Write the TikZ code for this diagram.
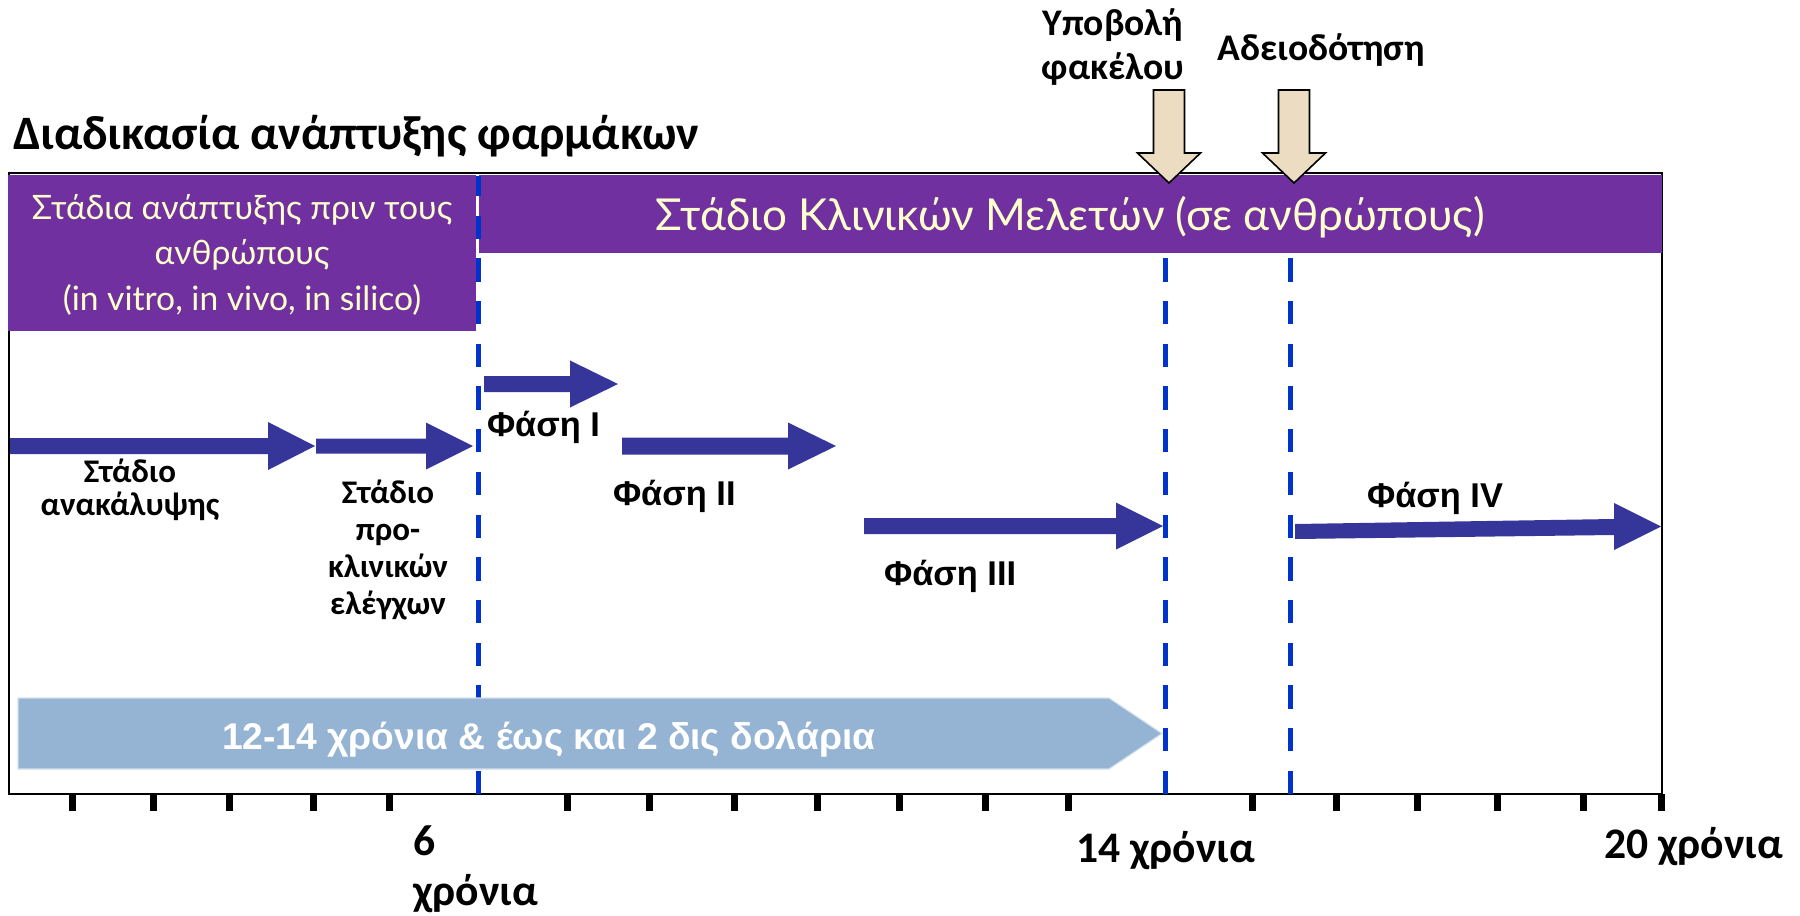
\documentclass[tikz,border=0pt]{standalone}
\usepackage{fontspec}
\setmainfont{Carlito}
\newfontfamily\arialfont{Liberation Sans}
\newfontfamily\roundfont{Lato}

\definecolor{purp}{HTML}{7030A0}
\definecolor{cream}{HTML}{FFFFCC}
\definecolor{navy}{HTML}{35359A}
\definecolor{dashblue}{HTML}{0033CC}
\definecolor{skyb}{HTML}{95B3D3}
\definecolor{tanfill}{HTML}{EBDCC2}

% horizontal block arrow: start x, tip x, centre y, half shaft, half head, head length
\newcommand\hblockarrow[6]{%
  ({#1},{#3-#4}) -- ({#2-#6},{#3-#4}) -- ({#2-#6},{#3-#5}) -- ({#2},{#3})
  -- ({#2-#6},{#3+#5}) -- ({#2-#6},{#3+#4}) -- ({#1},{#3+#4}) -- cycle}
% downward block arrow: centre x, top y, tip y, half shaft, half head, head length
\newcommand\vblockarrow[6]{%
  ({#1-#4},{#2}) -- ({#1+#4},{#2}) -- ({#1+#4},{#3-#6}) -- ({#1+#5},{#3-#6})
  -- ({#1},{#3}) -- ({#1-#5},{#3-#6}) -- ({#1-#4},{#3-#6}) -- cycle}

\tikzset{
  frameline/.style={line width=1pt, draw=black},
  purplebox/.style={fill=purp, draw=none},
  milestone/.style={draw=dashblue, line width=2.5pt, dash pattern=on 11.65pt off 9.7pt},
  navyarrow/.style={fill=navy, draw=none},
  spanarrow/.style={fill=skyb, draw=white!60!skyb, line width=0.6pt},
  eventarrow/.style={fill=tanfill, draw=black, line width=0.8pt, line join=miter},
  axistick/.style={line width=3.5pt, draw=black},
  txt/.style={inner sep=0pt, outer sep=0pt},
  titletext/.style={txt, anchor=base west, font=\bfseries\fontsize{24}{28}\selectfont},
  stagetext/.style={txt, anchor=base, align=center, text=cream, font=\roundfont\fontsize{16.8}{22.75}\selectfont},
  clinictext/.style={txt, anchor=base, text=cream, font=\roundfont\fontsize{22}{26}\selectfont},
  steptext/.style={txt, anchor=base, align=center, font=\bfseries\fontsize{16.5}{16.5}\selectfont},
  phasetext/.style={txt, anchor=base west, font=\arialfont\bfseries\fontsize{17.2}{20}\selectfont},
  eventtext/.style={txt, anchor=base, align=center, font=\bfseries\fontsize{18.8}{22}\selectfont},
  yeartext/.style={txt, anchor=base west, align=left, font=\bfseries\fontsize{21.8}{25}\selectfont},
  spantext/.style={txt, anchor=base west, text=white, font=\arialfont\bfseries\fontsize{18.6}{22}\selectfont},
}

\begin{document}
\begin{tikzpicture}[x=0.5pt, y=-0.5pt]
\useasboundingbox (0,0) rectangle (1800,916);

% title
\node[titletext] (title) at (13,149) {Διαδικασία ανάπτυξης φαρμάκων};

% outer frame
\draw[frameline] (9,173) rectangle (1662,794);

% stage headers
\path[purplebox] (8,175) rectangle (476,331);
\path[purplebox] (479,175) rectangle (1662,253);

% milestone lines, drawn upwards from the time axis
\coordinate (m1b) at (478,794);  \coordinate (m1t) at (478,176);
\coordinate (m2b) at (1165,794); \coordinate (m2t) at (1165,257);
\coordinate (m3b) at (1290,794); \coordinate (m3t) at (1290,257);
\draw[milestone] (m1b) -- (m1t);
\draw[milestone] (m2b) -- (m2t);
\draw[milestone] (m3b) -- (m3t);

% stage and phase arrows
\fill[navyarrow] \hblockarrow{10}{315}{446}{8}{24}{47};
\fill[navyarrow] \hblockarrow{316}{473}{446}{7.5}{23.5}{47};
\fill[navyarrow] \hblockarrow{484}{618}{384}{8}{23.5}{48};
\fill[navyarrow] \hblockarrow{622}{836}{446}{8.5}{23.5}{48};
\fill[navyarrow] \hblockarrow{864}{1163}{526}{8}{23.5}{47};
\fill[navyarrow] (1295,524) -- (1614,519) -- (1614,503) -- (1661,526.5)
  -- (1614,550) -- (1614,535) -- (1295,539) -- cycle;

% overall duration arrow
\filldraw[spanarrow] (18,698) -- (1109,698) -- (1162,733.5) -- (1109,769) -- (18,769) -- cycle;

% submission and approval markers
\filldraw[eventarrow] \vblockarrow{1169}{90}{183}{15.5}{31.5}{30};
\filldraw[eventarrow] \vblockarrow{1294}{90}{183}{15.5}{31.5}{30};

% time axis ticks
\foreach \tx in {72,153,229,313,389,567,649,734,817,899,985,1068,1252,1336,1417,1497,1583,1661}
  \draw[axistick] (\tx,794) -- (\tx,811);

% texts (multi-line nodes sit on the baseline of their last line)
\node[stagetext] (pre) at (242,310) {Στάδια ανάπτυξης πριν τους\\ανθρώπους\\(in vitro, in vivo, in silico)};
\node[clinictext] (clin) at (1070,230) {Στάδιο Κλινικών Μελετών (σε ανθρώπους)};

\node[steptext] (disc) at (130,515) {Στάδιο\\ανακάλυψης};
\node[steptext, font=\bfseries\fontsize{16.5}{18.5}\selectfont] (precl) at (388,614) {Στάδιο\\προ-\\κλινικών\\ελέγχων};

\node[phasetext] (ph1) at (487,436) {Φάση I};
\node[phasetext] (ph2) at (613,505) {Φάση II};
\node[phasetext] (ph3) at (884,585) {Φάση III};
\node[phasetext] (ph4) at (1367,507) {Φάση IV};

\node[spantext] (span) at (222,749) {12-14 χρόνια \& έως και 2 δις δολάρια};

\node[eventtext] (subm) at (1113,79) {Υποβολή\\φακέλου};
\node[eventtext] (appr) at (1321,60) {Αδειοδότηση};

\node[yeartext] (y6) at (413,905) {6\\χρόνια};
\node[yeartext] (y14) at (1076,862) {14 χρόνια};
\node[yeartext] (y20) at (1604,858) {20 χρόνια};
\end{tikzpicture}
\end{document}
